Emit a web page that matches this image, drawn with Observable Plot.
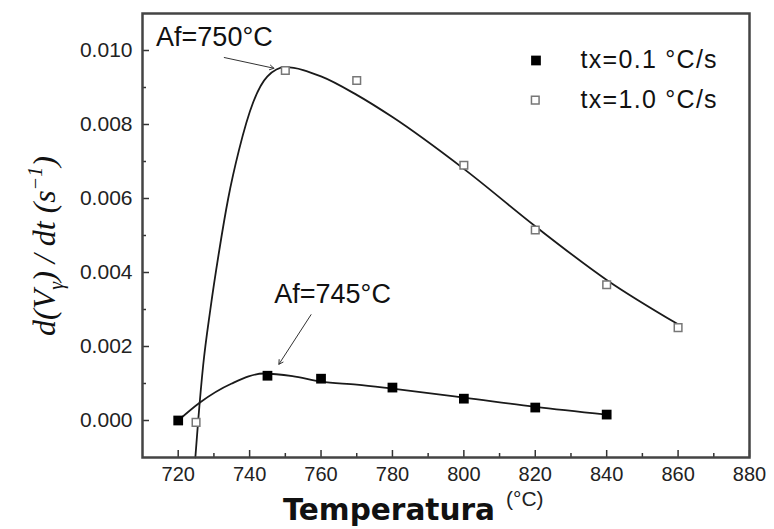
<!DOCTYPE html>
<html>
<head>
<meta charset="utf-8">
<script src="https://cdn.jsdelivr.net/npm/d3@7"></script>
<script src="https://cdn.jsdelivr.net/npm/@observablehq/plot@0.6"></script>
<style>
  html, body { margin: 0; padding: 0; background: #fff; }
  #chart { width: 774px; height: 529px; }
</style>
</head>
<body>
<div id="chart"></div>
<script>
// measured points
const temp01 = [720, 745, 760, 780, 800, 820, 840];
const rate01 = [0.0000, 0.00121, 0.00113, 0.00089, 0.00059, 0.00035, 0.00016];
const temp10 = [725, 750, 770, 800, 820, 840, 860];
const rate10 = [-0.00005, 0.00946, 0.00919, 0.0069, 0.00515, 0.00367, 0.00251];

// fitted curves
const fitTemp01 = [720, 726, 735, 744, 752, 760, 770, 780, 800, 820, 840];
const fitRate01 = [0.0000, 0.00048, 0.00100, 0.00127, 0.00120, 0.00105, 0.00097, 0.00086, 0.00062, 0.00037, 0.00016];
const fitTemp10 = [724.8, 725.6, 727, 729, 731.5, 734, 737, 741, 745, 750, 760, 770, 780, 800, 820, 840, 860];
const fitRate10 = [-0.001, 0.0, 0.0015, 0.0030, 0.0046, 0.0060, 0.0073, 0.0086, 0.0093, 0.00955, 0.0093, 0.0088, 0.0082, 0.0068, 0.00525, 0.0038, 0.0026];

// ticks
const xMajor = [720, 740, 760, 780, 800, 820, 840, 860, 880];
const xMinor = [730, 750, 770, 790, 810, 830, 850, 870];
const yMajor = [0.000, 0.002, 0.004, 0.006, 0.008, 0.010];
const yMinor = [0.001, 0.003, 0.005, 0.007, 0.009];

// legend & annotations
const seriesNames = ["tx=0.1\u00a0°C/s", "tx=1.0\u00a0°C/s"];
const annotations = ["Af=750°C", "Af=745°C"];

const W = 774, H = 529;
const mL = 142, mR = 25, mT = 13, mB = 72;
const pw = W - mL - mR, ph = H - mT - mB;
const font = "'Liberation Sans', Arial, Helvetica, sans-serif";

const chart = Plot.plot({
  width: W, height: H,
  marginLeft: mL, marginRight: mR, marginTop: mT, marginBottom: mB,
  style: {fontFamily: font, color: "#222", background: "white"},
  x: {domain: [710, 880]},
  y: {domain: [-0.001, 0.011]},
  marks: [
    // fitted curves
    Plot.line(fitTemp10, {x: fitTemp10, y: fitRate10, curve: "monotone-x", stroke: "#1a1a1a", strokeWidth: 1.8}),
    Plot.line(fitTemp01, {x: fitTemp01, y: fitRate01, curve: "monotone-x", stroke: "#1a1a1a", strokeWidth: 1.8}),
    // points
    Plot.dot(temp01, {x: temp01, y: rate01, symbol: "square", fill: "#000", r: 5.5}),
    Plot.dot(temp10, {x: temp10, y: rate10, symbol: "square", fill: "white", stroke: "#777", strokeWidth: 1.5, r: 4.3}),
    // annotations
    Plot.text([annotations[0]], {x: 713.8, y: 0.01035, text: d => d, textAnchor: "start", fontSize: 27, fill: "#111"}),
    Plot.arrow([0], {x1: 732.9, y1: 0.00981, x2: 746.8, y2: 0.00952, stroke: "#333", strokeWidth: 1, headLength: 7}),
    Plot.text([annotations[1]], {x: 746.9, y: 0.0034, text: d => d, textAnchor: "start", fontSize: 27, fill: "#111"}),
    Plot.arrow([0], {x1: 757.2, y1: 0.00286, x2: 748.2, y2: 0.00152, stroke: "#333", strokeWidth: 1, headLength: 7}),
    // legend
    Plot.dot([0], {x: 820.2, y: 0.00973, symbol: "square", fill: "#000", r: 5.5}),
    Plot.dot([0], {x: 820.0, y: 0.00866, symbol: "square", fill: "white", stroke: "#777", strokeWidth: 1.5, r: 4.3}),
    Plot.text([seriesNames[0]], {x: 832.7, y: 0.00973, text: d => d, textAnchor: "start", fontSize: 25, fill: "#111", className: "legtext"}),
    Plot.text([seriesNames[1]], {x: 832.7, y: 0.00866, text: d => d, textAnchor: "start", fontSize: 25, fill: "#111", className: "legtext"}),
    // inward ticks
    Plot.tickY(yMajor, {y: d => d, insetRight: pw - 7, stroke: "#333", strokeWidth: 1.5}),
    Plot.tickY(yMinor, {y: d => d, insetRight: pw - 4, stroke: "#333", strokeWidth: 1.5}),
    Plot.tickX(xMajor, {x: d => d, insetTop: ph - 7, stroke: "#333", strokeWidth: 1.5}),
    Plot.tickX(xMinor, {x: d => d, insetTop: ph - 4, stroke: "#333", strokeWidth: 1.5}),
    // axes labels
    Plot.axisX(xMajor, {tickSize: 0, tickPadding: 9, fontSize: 20, label: null, fill: "#222"}),
    Plot.axisY(yMajor, {tickSize: 0, tickPadding: 10, fontSize: 21, label: null, tickFormat: d3.format(".3f"), fill: "#222"}),
    Plot.frame({stroke: "#444", strokeWidth: 2.5})
  ]
});

document.getElementById("chart").appendChild(chart);

const svg = d3.select(chart);
svg.selectAll(".legtext text").attr("textLength", 136).attr("lengthAdjust", "spacing");

// axis titles as real text
svg.append("text")
  .attr("x", 283).attr("y", 520)
  .attr("text-anchor", "start")
  .attr("textLength", 212).attr("lengthAdjust", "spacingAndGlyphs")
  .style("font-family", "'Liberation Sans Narrow', 'DejaVu Sans Condensed', 'Liberation Sans', sans-serif")
  .style("font-weight", "bold").style("font-size", "31px").attr("fill", "#111")
  .text("Temperatura");
svg.append("text")
  .attr("x", 506).attr("y", 506)
  .attr("text-anchor", "start")
  .style("font-family", font).style("font-size", "21px").attr("fill", "#222")
  .text("(°C)");

const yt = svg.append("text")
  .attr("transform", "translate(55,246) rotate(-90)")
  .attr("text-anchor", "middle")
  .style("font-family", "'Liberation Serif', 'DejaVu Serif', serif")
  .style("font-style", "italic").style("font-size", "32px").attr("fill", "#111");
yt.append("tspan").text("d(V");
yt.append("tspan").attr("dy", 8).style("font-size", "20px").text("γ");
yt.append("tspan").attr("dy", -8).text(") / dt (s");
yt.append("tspan").attr("dy", -13).style("font-size", "20px").text("−1");
yt.append("tspan").attr("dy", 13).text(")");
</script>
</body>
</html>
